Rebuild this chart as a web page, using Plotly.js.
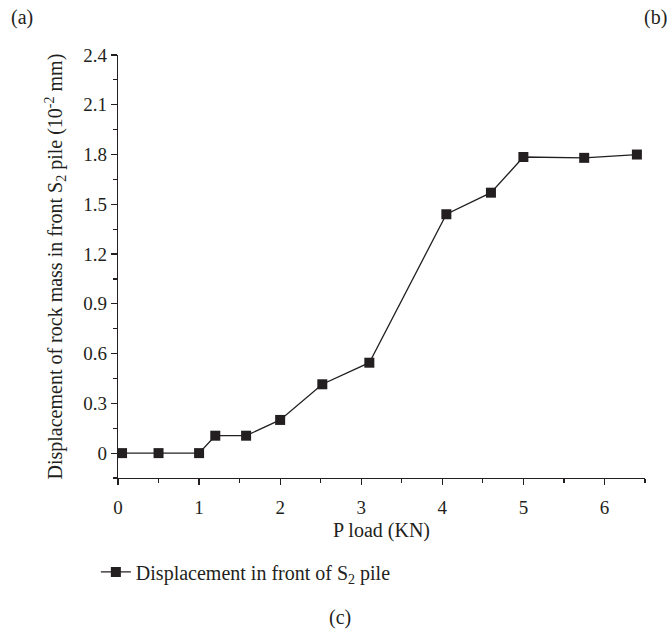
<!DOCTYPE html>
<html>
<head>
<meta charset="utf-8">
<script src="https://cdn.plot.ly/plotly-3.0.1.min.js"></script>
<style>html,body{margin:0;padding:0;background:#fff;}#chart{width:669px;height:629px;}</style>
</head>
<body>
<div id="chart"></div>
<script>
var pLoad = [0.05, 0.5, 1.0, 1.2, 1.58, 2.0, 2.52, 3.1, 4.05, 4.6, 5.0, 5.75, 6.4];
var displacement = [0, 0, 0, 0.105, 0.105, 0.2, 0.415, 0.545, 1.44, 1.57, 1.785, 1.78, 1.8];
var yTickVals = [0, 0.3, 0.6, 0.9, 1.2, 1.5, 1.8, 2.1, 2.4];
var yTickText = ["0", "0.3", "0.6", "0.9", "1.2", "1.5", "1.8", "2.1", "2.4"];
var xTickVals = [0, 1, 2, 3, 4, 5, 6];
var xTickText = ["0", "1", "2", "3", "4", "5", "6"];
var seriesName = "Displacement in front of S<sub>2</sub> pile";

var ink = "#231f20";
var fnt = {family: "Liberation Serif, Times New Roman, serif", size: 20, color: ink};
var tickFnt = {family: "Liberation Serif, Times New Roman, serif", size: 19, color: ink};

var trace = {
  x: pLoad, y: displacement, type: "scatter", mode: "lines+markers",
  name: seriesName,
  line: {color: ink, width: 1.3},
  marker: {symbol: "square", size: 10, color: ink}
};

var layout = {
  width: 669, height: 629,
  margin: {l: 118, r: 24, t: 55, b: 151},
  paper_bgcolor: "#fff", plot_bgcolor: "#fff",
  font: fnt,
  showlegend: true,
  legend: {x: -0.042, xanchor: "left", y: -0.222, yanchor: "middle", font: fnt, bgcolor: "rgba(0,0,0,0)"},
  xaxis: {
    range: [0, 6.5], showgrid: false, zeroline: false,
    showline: true, linecolor: ink, linewidth: 1.2,
    ticks: "outside", ticklen: 6, tickwidth: 1.2, tickcolor: ink,
    ticklabelstandoff: 6,
    tickvals: xTickVals, ticktext: xTickText, tickfont: tickFnt,
    minor: {dtick: 0.5, tick0: 0, ticks: "outside", ticklen: 4, tickwidth: 1.2, tickcolor: ink, showgrid: false},
    title: {text: "P load (KN)", font: fnt, standoff: 6}
  },
  yaxis: {
    range: [-0.15, 2.4], showgrid: false, zeroline: false,
    showline: true, linecolor: ink, linewidth: 1.2,
    ticks: "outside", ticklen: 6, tickwidth: 1.2, tickcolor: ink,
    tickvals: yTickVals, ticktext: yTickText, tickfont: tickFnt,
    minor: {dtick: 0.15, tick0: 0, ticks: "outside", ticklen: 4, tickwidth: 1.2, tickcolor: ink, showgrid: false}
  },
  annotations: [
    {text: "Displacement of rock mass in front S<sub>2</sub> pile (10<sup>-2</sup> mm)", textangle: -90,
     xref: "paper", yref: "paper", x: (55 - 118) / 527, y: 0.5, xanchor: "center", yanchor: "middle", showarrow: false, font: fnt},
    {text: "(a)", xref: "paper", yref: "paper", x: (22 - 118) / 527, y: 1 + (55 - 17) / 423, xanchor: "center", yanchor: "middle", showarrow: false, font: fnt},
    {text: "(b)", xref: "paper", yref: "paper", x: (655 - 118) / 527, y: 1 + (55 - 17) / 423, xanchor: "center", yanchor: "middle", showarrow: false, font: fnt},
    {text: "(c)", xref: "paper", yref: "paper", x: (340 - 118) / 527, y: -(617 - 478) / 423, xanchor: "center", yanchor: "middle", showarrow: false, font: fnt}
  ]
};

Plotly.newPlot("chart", [trace], layout, {displayModeBar: false, staticPlot: true});
</script>
</body>
</html>
